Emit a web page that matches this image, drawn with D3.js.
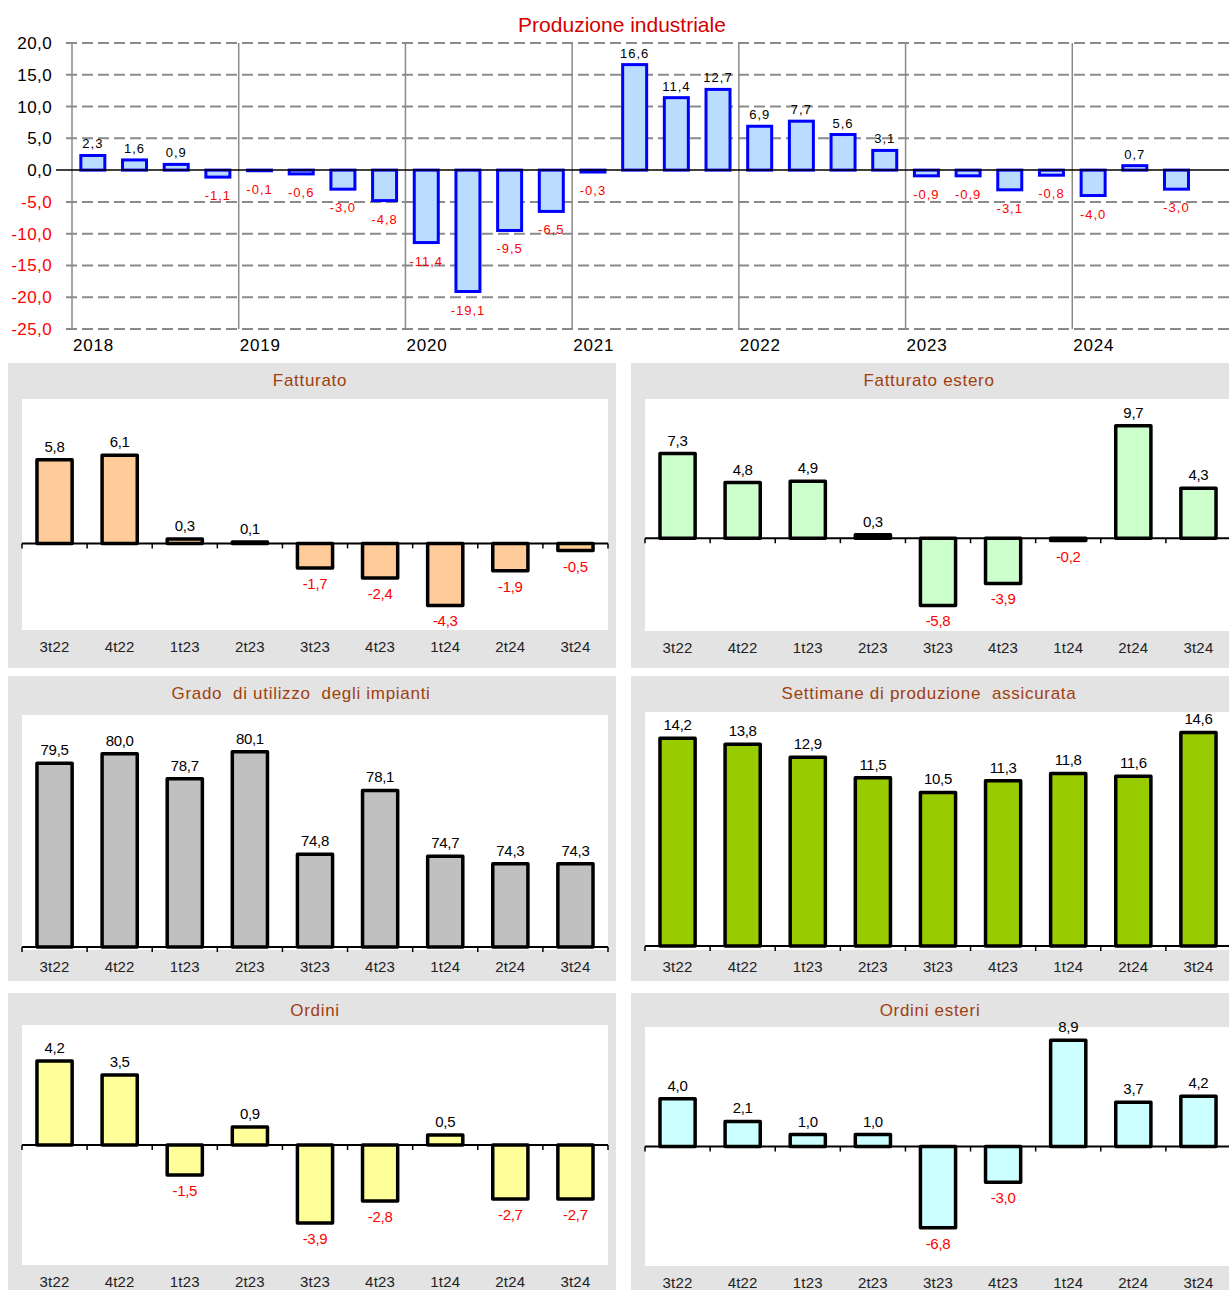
<!doctype html>
<html lang="it">
<head>
<meta charset="utf-8">
<title>Congiuntura industriale</title>
<script src="https://cdn.jsdelivr.net/npm/d3@7"></script>
<style>
    body { margin: 0; background: #fff; }
    svg { display: block; font-family: "Liberation Sans", Arial, sans-serif; }
</style>
</head>
<body>
<svg id="chart" width="1229" height="1290"></svg>
<script>
    // --- data ---
    const years = ["2018", "2019", "2020", "2021", "2022", "2023", "2024"];
    // quarterly values 2018Q1 .. 2024Q3
    const produzione = [2.3, 1.6, 0.9, -1.1, -0.1, -0.6, -3.0, -4.8, -11.4, -19.1, -9.5, -6.5,
        -0.3, 16.6, 11.4, 12.7, 6.9, 7.7, 5.6, 3.1, -0.9, -0.9, -3.1, -0.8, -4.0, 0.7, -3.0];
    const prodTicks = [-25, -20, -15, -10, -5, 0, 5, 10, 15, 20];

    const quarters = ["3t22", "4t22", "1t23", "2t23", "3t23", "4t23", "1t24", "2t24", "3t24"];
    const fatturato = [5.8, 6.1, 0.3, 0.1, -1.7, -2.4, -4.3, -1.9, -0.5];
    const fatturatoEstero = [7.3, 4.8, 4.9, 0.3, -5.8, -3.9, -0.2, 9.7, 4.3];
    const gradoUtilizzo = [79.5, 80.0, 78.7, 80.1, 74.8, 78.1, 74.7, 74.3, 74.3];
    const settimane = [14.2, 13.8, 12.9, 11.5, 10.5, 11.3, 11.8, 11.6, 14.6];
    const ordini = [4.2, 3.5, -1.5, 0.9, -3.9, -2.8, 0.5, -2.7, -2.7];
    const ordiniEsteri = [4.0, 2.1, 1.0, 1.0, -6.8, -3.0, 8.9, 3.7, 4.2];

    const it = d3.formatLocale({decimal: ",", thousands: ".", grouping: [3], currency: ["", " €"], minus: "-"});
    const fmt = it.format(".1f");

    const svg = d3.select("#chart");

    // --- top chart: Produzione industriale ---
    function topChart() {
        const left = 72, right = 1239, top = 43, bottom = 329;
        const x = d3.scaleLinear().domain([0, 28]).range([left, right]);
        const y = d3.scaleLinear().domain([-25, 20]).range([bottom, top]);
        const g = svg.append("g");

        svg.append("text")
            .attr("x", 622).attr("y", 32)
            .attr("text-anchor", "middle")
            .style("font-size", "21px")
            .style("fill", "#d40000")
            .text("Produzione industriale");

        // dashed grid
        g.selectAll(".grid").data(prodTicks).enter().append("line")
            .attr("x1", 66).attr("x2", right)
            .attr("y1", d => y(d)).attr("y2", d => y(d))
            .style("stroke", d => d === 0 ? "none" : "#8a8a8a")
            .style("stroke-width", 2)
            .style("stroke-dasharray", "11,5");

        // year separators
        g.selectAll(".year").data(years).enter().append("line")
            .attr("x1", (d, i) => x(i * 4)).attr("x2", (d, i) => x(i * 4))
            .attr("y1", top).attr("y2", bottom)
            .style("stroke", "#8a8a8a")
            .style("stroke-width", 1.5);

        g.selectAll(".yl").data(prodTicks).enter().append("text")
            .attr("x", 52).attr("y", d => y(d) + 6)
            .attr("text-anchor", "end")
            .style("font-size", "17px")
            .style("letter-spacing", "0.4px")
            .style("fill", d => d < 0 ? "#ff0000" : "#000")
            .text(d => fmt(d));

        g.selectAll(".xl").data(years).enter().append("text")
            .attr("x", (d, i) => x(i * 4) + 1).attr("y", 351)
            .style("font-size", "17px")
            .style("letter-spacing", "0.8px")
            .style("fill", "#000")
            .text(d => d);

        const bw = 24;
        g.selectAll(".bar").data(produzione).enter().append("rect")
            .attr("x", (d, i) => x(i + 0.5) - bw / 2)
            .attr("width", bw)
            .attr("y", d => y(Math.max(0, d)))
            .attr("height", d => Math.abs(y(d) - y(0)))
            .style("fill", "#b9dcff")
            .style("stroke", "#0000ff")
            .style("stroke-width", 3);

        g.append("line")
            .attr("x1", 56).attr("x2", right)
            .attr("y1", y(0)).attr("y2", y(0))
            .style("stroke", "#000").style("stroke-width", 1.5);

        g.selectAll(".vl").data(produzione).enter().append("text")
            .attr("x", (d, i) => x(i + 0.5))
            .attr("y", d => d >= 0 ? y(d) - 7 : y(d) + 23)
            .attr("text-anchor", "middle")
            .style("font-size", "13px")
            .style("letter-spacing", "1px")
            .style("fill", d => d < 0 ? "#ff0000" : "#000")
            .text(d => fmt(d));
    }

    // --- small panels ---
    function panel(cfg) {
        const g = svg.append("g");
        g.append("rect")
            .attr("x", cfg.bx).attr("y", cfg.by)
            .attr("width", 608).attr("height", cfg.bh)
            .style("fill", "#e3e3e3");

        const left = cfg.bx + 14, right = left + 586;
        g.append("rect")
            .attr("x", left).attr("y", cfg.top)
            .attr("width", right - left).attr("height", cfg.bottom - cfg.top)
            .style("fill", "#fff");

        g.append("text")
            .attr("x", cfg.tx).attr("y", cfg.by + 23)
            .attr("text-anchor", "middle")
            .style("font-size", "17px")
            .style("letter-spacing", "0.7px")
            .style("fill", "#a0400f")
            .style("white-space", "pre")
            .text(cfg.title);

        const x = d3.scaleBand().domain(quarters).range([left, right])
            .paddingInner(0.46).paddingOuter(0.23);
        const y = d3.scaleLinear().domain(cfg.domain).range([cfg.bottom - (cfg.pad || 0), cfg.top]);
        const base = cfg.domain[0] > 0 ? cfg.domain[0] : 0;

        g.selectAll(".bar").data(cfg.data).enter().append("rect")
            .attr("x", (d, i) => x(quarters[i]))
            .attr("width", x.bandwidth())
            .attr("y", d => y(Math.max(base, d)))
            .attr("height", d => Math.abs(y(d) - y(base)))
            .style("fill", cfg.fill)
            .style("stroke", "#000")
            .style("stroke-width", 3.5)
            .style("stroke-linejoin", "round");

        // category axis
        g.append("line")
            .attr("x1", left).attr("x2", right)
            .attr("y1", y(base)).attr("y2", y(base))
            .style("stroke", "#000").style("stroke-width", 2);
        g.selectAll(".tick").data(d3.range(quarters.length + 1)).enter().append("line")
            .attr("x1", i => left + i * x.step()).attr("x2", i => left + i * x.step())
            .attr("y1", y(base)).attr("y2", y(base) + 5)
            .style("stroke", "#000").style("stroke-width", 1.5);

        g.selectAll(".cl").data(quarters).enter().append("text")
            .attr("x", d => x(d) + x.bandwidth() / 2)
            .attr("y", cfg.bottom + 22)
            .attr("text-anchor", "middle")
            .style("font-size", "15px")
            .style("letter-spacing", "0.2px")
            .style("fill", "#222")
            .text(d => d);

        g.selectAll(".vl").data(cfg.data).enter().append("text")
            .attr("x", (d, i) => x(quarters[i]) + x.bandwidth() / 2)
            .attr("y", d => d >= base ? y(d) - 8 : y(d) + 21)
            .attr("text-anchor", "middle")
            .style("font-size", "15px")
            .style("letter-spacing", "-0.3px")
            .style("fill", d => d < base ? "#ff0000" : "#000")
            .text(d => fmt(d));
    }

    topChart();
    panel({bx: 8, by: 363, bh: 305, top: 399, bottom: 630, tx: 310, title: "Fatturato",
        data: fatturato, domain: [-6, 10], fill: "#ffcc99"});
    panel({bx: 631, by: 363, bh: 305, top: 399, bottom: 631, tx: 929, title: "Fatturato estero",
        data: fatturatoEstero, domain: [-8, 12], fill: "#ccffcc"});
    panel({bx: 8, by: 676, bh: 305, top: 715, bottom: 950, pad: 3, tx: 301, title: "Grado  di utilizzo  degli impianti",
        data: gradoUtilizzo, domain: [70, 82], fill: "#c0c0c0"});
    panel({bx: 631, by: 676, bh: 305, top: 712, bottom: 950, pad: 4, tx: 929, title: "Settimane di produzione  assicurata",
        data: settimane, domain: [0, 16], fill: "#99cc00"});
    panel({bx: 8, by: 993, bh: 300, top: 1025, bottom: 1265, tx: 315, title: "Ordini",
        data: ordini, domain: [-6, 6], fill: "#ffff99"});
    panel({bx: 631, by: 993, bh: 300, top: 1027, bottom: 1266, tx: 930, title: "Ordini esteri",
        data: ordiniEsteri, domain: [-10, 10], fill: "#ccffff"});
</script>
</body>
</html>
